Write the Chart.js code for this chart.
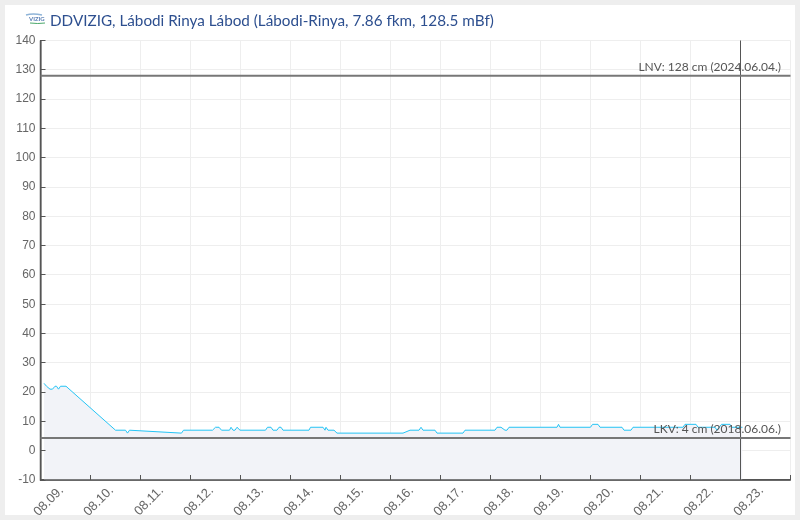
<!DOCTYPE html>
<html>
<head>
<meta charset="utf-8">
<style>
  html, body { margin: 0; padding: 0; background: #eeeeee; }
  #panel { position: absolute; left: 5px; top: 5px; width: 790px; height: 510px; background: #ffffff; }
  #chartBox { position: absolute; left: 0; top: 0; width: 790px; height: 510px; }
</style>
<script src="https://cdn.jsdelivr.net/npm/chart.js@4/dist/chart.umd.min.js"></script>
</head>
<body>
<div id="panel"><div id="chartBox"><canvas id="levelChart"></canvas></div></div>
<script>
const chartTitle = "DDVIZIG, Lábodi Rinya Lábod (Lábodi-Rinya, 7.86 fkm, 128.5 mBf)";
const dayLabels = ["08.09.", "08.10.", "08.11.", "08.12.", "08.13.", "08.14.", "08.15.", "08.16.",
  "08.17.", "08.18.", "08.19.", "08.20.", "08.21.", "08.22.", "08.23."];

// days since 08.09. 00:00 and water level in cm
const levelDays = [0.07, 0.12, 0.19, 0.24, 0.29, 0.32, 0.36, 0.4, 0.51, 1.5, 1.7, 1.74, 1.78, 2.82, 2.86,
  3.44, 3.5, 3.57, 3.62, 3.78, 3.81, 3.85, 3.89, 3.93, 3.99, 4.5, 4.54, 4.61, 4.65, 4.73, 4.77, 4.81, 4.85,
  5.37, 5.4, 5.65, 5.69, 5.71, 5.75, 5.87, 5.93, 7.25, 7.39, 7.57, 7.61, 7.65, 7.89, 7.93, 8.45, 8.49,
  9.09, 9.13, 9.21, 9.29, 9.33, 9.37, 10.33, 10.36, 10.39, 11.0, 11.04, 11.15, 11.19, 11.63, 11.67, 11.81,
  11.85, 12.85, 12.89, 13.11, 13.15, 13.49, 13.53, 13.62, 13.79, 13.83, 14.04];
const levelValues = [23, 22, 21, 21, 22, 22, 21, 22, 22, 7, 7, 6, 7, 6, 7,
  7, 8, 8, 7, 7, 8, 7, 7, 8, 7, 7, 8, 8, 7, 7, 8, 8, 7,
  7, 8, 8, 7, 8, 7, 7, 6, 6, 7, 7, 8, 7, 7, 6, 6, 7,
  7, 8, 8, 7, 7, 8, 8, 9, 8, 8, 9, 9, 8, 8, 7, 7,
  8, 8, 9, 9, 8, 8, 7, 9, 9, 8, 8];

const lnvValue = 128;
const lnvLabel = "LNV: 128 cm (2024.06.04.)";
const lkvValue = 4.3;
const lkvLabel = "LKV: 4 cm (2018.06.06.)";
const nowDay = 14;

const axisColor = "#555555";
const refColor = "#777777";
const tickFont = { family: "Liberation Sans", size: 12 };

// title with the small station logo, axis lines over the fill, inward ticks, LNV/LKV lines with captions
const extrasPlugin = {
  id: "extras",
  afterDatasetsDraw(chart) {
    const { ctx, scales, chartArea } = chart;
    const x = scales.x;
    const y = scales.y;
    ctx.save();

    ctx.strokeStyle = axisColor;
    ctx.lineWidth = 1;
    ctx.beginPath();
    x.ticks.forEach((tick) => {
      const tickX = Math.floor(x.getPixelForValue(tick.value)) + 0.5;
      ctx.moveTo(tickX, chartArea.bottom);
      ctx.lineTo(tickX, chartArea.bottom - 5);
    });
    y.ticks.forEach((tick) => {
      const tickY = Math.floor(y.getPixelForValue(tick.value)) + 0.5;
      ctx.moveTo(chartArea.left, tickY);
      ctx.lineTo(chartArea.left + 5, tickY);
    });
    const nowX = Math.floor(x.getPixelForValue(nowDay)) + 0.5;
    ctx.moveTo(nowX, chartArea.top);
    ctx.lineTo(nowX, chartArea.bottom);
    ctx.stroke();

    ctx.lineWidth = 1.5;
    ctx.beginPath();
    ctx.moveTo(chartArea.left, chartArea.top);
    ctx.lineTo(chartArea.left, chartArea.bottom);
    ctx.lineTo(chartArea.right, chartArea.bottom);
    ctx.stroke();

    ctx.strokeStyle = refColor;
    ctx.lineWidth = 2;
    [lnvValue, lkvValue].forEach((value) => {
      ctx.beginPath();
      ctx.moveTo(chartArea.left, y.getPixelForValue(value));
      ctx.lineTo(chartArea.right, y.getPixelForValue(value));
      ctx.stroke();
    });

    ctx.fillStyle = "#555555";
    ctx.font = "12px Lato";
    ctx.textAlign = "right";
    ctx.textBaseline = "bottom";
    ctx.fillText(lnvLabel, 776, y.getPixelForValue(lnvValue) - 3);
    ctx.fillText(lkvLabel, 776, y.getPixelForValue(lkvValue) - 3);

    ctx.fillStyle = "#2d4f8f";
    ctx.font = "15.25px Lato";
    ctx.textAlign = "left";
    ctx.textBaseline = "alphabetic";
    ctx.fillText(chartTitle, 45, 21);

    ctx.fillStyle = "#5b7fb5";
    ctx.font = "bold 6px Lato";
    ctx.textBaseline = "middle";
    ctx.fillText("VIZIG", 24, 14);
    ctx.strokeStyle = "#8fb4d8";
    ctx.lineWidth = 1.5;
    ctx.beginPath();
    ctx.moveTo(21, 10);
    ctx.quadraticCurveTo(28, 8, 37, 10);
    ctx.stroke();
    ctx.strokeStyle = "#4aa86a";
    ctx.lineWidth = 1;
    ctx.beginPath();
    ctx.moveTo(25, 18);
    ctx.quadraticCurveTo(33, 19, 40, 18);
    ctx.stroke();
    ctx.restore();
  }
};

new Chart(document.getElementById("levelChart"), {
  type: "line",
  data: {
    datasets: [
      {
        data: levelDays.map((day, index) => ({ x: day, y: levelValues[index] })),
        borderColor: "#25c4f5",
        borderWidth: 1,
        backgroundColor: "#f2f3f8",
        fill: "start",
        pointRadius: 0,
        tension: 0
      }
    ]
  },
  options: {
    responsive: true,
    maintainAspectRatio: false,
    animation: false,
    layout: { padding: { left: 0, right: 4.5, top: 35.5, bottom: 0 } },
    plugins: {
      legend: { display: false },
      tooltip: { enabled: false },
      title: { display: false }
    },
    scales: {
      x: {
        type: "linear",
        min: 0,
        max: 15,
        afterBuildTicks(axis) {
          axis.ticks = [...dayLabels, ""].map((label, index) => ({ value: index }));
        },
        afterFit(axis) {
          axis.height = 35;
          axis.paddingLeft = 0;
          axis.paddingRight = 0;
        },
        grid: { color: "#eeeeee", drawTicks: false },
        border: { color: axisColor, width: 1.5 },
        ticks: {
          color: "#666666",
          font: { family: "Liberation Sans", size: 13 },
          maxRotation: 45,
          minRotation: 45,
          autoSkip: false,
          padding: 3,
          labelOffset: 21,
          callback: (value) => dayLabels[value] || ""
        }
      },
      y: {
        min: -10,
        max: 140,
        afterFit(axis) {
          axis.width = 35.5;
        },
        grid: { color: "#eeeeee", drawTicks: false },
        border: { color: axisColor, width: 1.5 },
        ticks: { color: "#666666", font: tickFont, stepSize: 10, padding: 5 }
      }
    }
  },
  plugins: [extrasPlugin]
});
</script>
</body>
</html>
